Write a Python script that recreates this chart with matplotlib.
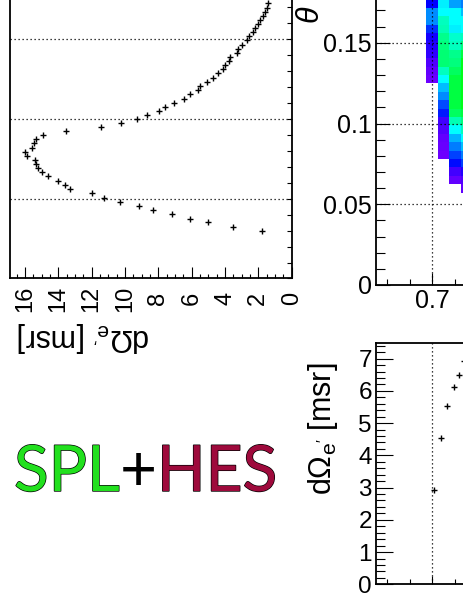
import numpy as np
import matplotlib
matplotlib.use('Agg')
import matplotlib.pyplot as plt
import matplotlib.patheffects as pe
from matplotlib.colors import LinearSegmentedColormap
from matplotlib.ticker import MultipleLocator

W, H, DPI = 463, 599, 100

# --- left panel: dOmega_e' vs theta (drawn rotated, dOmega axis reversed) ---
theta_left = [0.0296, 0.0321, 0.0352, 0.0375, 0.0402, 0.0427, 0.0452, 0.0481,
              0.0506, 0.0535, 0.0560, 0.0585, 0.0612, 0.0640, 0.0665, 0.0692,
              0.0717, 0.0744, 0.0771, 0.0794, 0.0821, 0.0848, 0.0873, 0.0900,
              0.0925, 0.0948, 0.0973, 0.1000, 0.1025, 0.1050, 0.1077, 0.1102,
              0.1127, 0.1154, 0.1181, 0.1206, 0.1233, 0.1258, 0.1286, 0.1311,
              0.1336, 0.1363, 0.1389, 0.1414, 0.1442, 0.1467, 0.1494, 0.1519,
              0.1544, 0.1569, 0.1594, 0.1619, 0.1644, 0.1669, 0.1698, 0.1727]
domega_left = [1.8, 3.5, 5.0, 6.1, 7.2, 8.3, 9.14, 10.3,
               11.24, 12.0, 13.3, 13.6, 14.04, 14.6, 15.0, 15.24,
               15.34, 15.4, 15.9, 16.0, 15.56, 15.44, 15.34, 14.94,
               13.54, 11.44, 10.24, 9.26, 8.7, 7.94, 7.6, 7.06,
               6.46, 6.1, 5.6, 5.5, 5.06, 4.7, 4.4, 4.14,
               4.0, 3.74, 3.7, 3.3, 3.2, 3.0, 2.7, 2.54,
               2.34, 2.2, 2.04, 1.9, 1.74, 1.6, 1.5, 1.4]
domega_left_ticks = [0, 2, 4, 6, 8, 10, 12, 14, 16]

# --- bottom right: dOmega_e' vs momentum ---
p_bottom = [0.7010, 0.7041, 0.7066, 0.7095, 0.7121, 0.7143]
domega_bottom = [2.94, 4.55, 5.52, 6.12, 6.48, 6.92]
domega_bottom_ticks = [0, 1, 2, 3, 4, 5, 6, 7]

# --- top right: acceptance map (p, theta) ---
p_edges = [0.6973, 0.7025, 0.7077, 0.7129, 0.7181]
theta_bin = 0.0052
col_start = [24, 15, 12, 11]  # first filled theta bin per p column
col1 = [0.035, 0.05, 0.075, 0.125, 0.15, 0.175, 0.24, 0.31, 0.31, 0.2, 0.2]
col2 = [0.035, 0.04, 0.05, 0.075, 0.1, 0.22, 0.26, 0.31, 0.35, 0.4,
        0.45, 0.51, 0.51, 0.5, 0.49, 0.46, 0.45, 0.4, 0.39, 0.39]
col3 = [0.05, 0.1, 0.21, 0.25, 0.3, 0.34, 0.4, 0.46, 0.525, 0.55, 0.55,
        0.55, 0.55, 0.525, 0.5, 0.49, 0.45, 0.44, 0.39, 0.4, 0.4, 0.325, 0.325]
col4 = [0.05, 0.075, 0.15, 0.25, 0.3, 0.35, 0.4, 0.45, 0.5, 0.55, 0.58,
        0.58, 0.58, 0.58, 0.58, 0.58, 0.55, 0.5, 0.45, 0.4, 0.4, 0.35, 0.3, 0.3]
theta_ticks = [0, 0.05, 0.1, 0.15]
theta_ticklabels = ['0', '0.05', '0.1', '0.15']
p_ticks = [0.7]
p_ticklabels = ['0.7']

ylabel = r"d$\Omega_{\mathregular{e'}}$ [msr]"

plt.rcParams['font.family'] = ['Liberation Sans', 'DejaVu Sans']
plt.rcParams['mathtext.fontset'] = 'custom'
plt.rcParams['mathtext.rm'] = 'Liberation Sans'
plt.rcParams['mathtext.it'] = 'Liberation Sans:italic'

# ROOT-like rainbow palette
rainbow = LinearSegmentedColormap.from_list('root_rainbow', [
    (0.0, '#8000ff'), (0.2, '#0000ff'), (0.4, '#00ffff'),
    (0.6, '#00ff00'), (0.8, '#ffff00'), (1.0, '#ff0000')])


def px_axes(fig, x0, y0, x1, y1):
    # pixel box (top-left origin) -> figure axes
    return fig.add_axes([x0 / W, 1 - y1 / H, (x1 - x0) / W, (y1 - y0) / H])


def style_spines(ax):
    for s in ax.spines.values():
        s.set_linewidth(1.3)


fig = plt.figure(figsize=(W / DPI, H / DPI), dpi=DPI)
grid_kw = dict(color='black', lw=0.9, ls=(0, (1, 2.2)), zorder=3)

# ===== left (rotated) panel =====
axL = px_axes(fig, 10, 278.5 - 0.2 * 1595, 291.7, 278.5)
axL.plot(domega_left, theta_left, ls='none', marker='+', ms=4.3, mew=1.0, color='black')
axL.set_xlim(16.9, 0)
axL.set_ylim(0, 0.2)
for t in theta_ticks[1:]:
    axL.axhline(t, **grid_kw)
axL.set_xticks(domega_left_ticks)
axL.set_xticklabels([str(v) for v in domega_left_ticks])
axL.xaxis.set_minor_locator(MultipleLocator(0.5))
axL.yaxis.set_major_locator(MultipleLocator(0.05))
axL.yaxis.set_minor_locator(MultipleLocator(0.01))
axL.tick_params(axis='x', which='major', direction='in', length=8, width=0.8,
                labelsize=17, labelrotation=90, pad=14.5, top=False)
axL.tick_params(axis='x', which='minor', direction='in', length=3.2, width=0.8, top=False)
axL.tick_params(axis='y', which='both', direction='in', length=3.6, width=0.8,
                left=False, right=True, labelleft=False, labelright=False)
for lbl in axL.get_xticklabels():
    lbl.set_va('center')
style_spines(axL)
fig.text(84 / W, 1 - 337 / H, ylabel, rotation=180, fontsize=22,
         ha='center', va='center')

# ===== top-right acceptance map =====
axM = px_axes(fig, 376, 285 - 0.2 * 1615, 544.5, 285)
theta_edges = np.arange(39) * theta_bin
Z = np.full((len(theta_edges) - 1, len(p_edges) - 1), np.nan)
for j, (start, vals) in enumerate(zip(col_start, [col1, col2, col3, col4])):
    Z[start:start + len(vals), j] = vals
axM.pcolormesh(p_edges, theta_edges, np.ma.masked_invalid(Z), cmap=rainbow,
               vmin=0, vmax=1, zorder=1)
axM.set_xlim(0.675, 0.75)
axM.set_ylim(0, 0.2)
for t in theta_ticks[1:]:
    axM.axhline(t, **grid_kw)
for p in p_ticks:
    axM.axvline(p, **grid_kw)
axM.set_yticks(theta_ticks)
axM.set_yticklabels(theta_ticklabels)
axM.yaxis.set_minor_locator(MultipleLocator(0.01))
axM.set_xticks(p_ticks)
axM.set_xticklabels(p_ticklabels)
axM.xaxis.set_minor_locator(MultipleLocator(0.01))
axM.tick_params(axis='y', which='major', direction='in', length=10, width=0.8,
                labelsize=18, pad=3)
axM.tick_params(axis='y', which='minor', direction='in', length=6.5, width=0.8)
axM.tick_params(axis='x', which='major', direction='in', length=8.5, width=0.8,
                labelsize=18, pad=3)
axM.tick_params(axis='x', which='minor', direction='in', length=4.3, width=0.8)
style_spines(axM)
fig.text(311 / W, 1 - 15 / H, r'$\theta$', rotation=90, fontsize=22,
         ha='center', va='center')

# ===== bottom-right dOmega vs p =====
axB = px_axes(fig, 376, 342.5, 544.5, 584.3)
axB.plot(p_bottom, domega_bottom, ls='none', marker='+', ms=4.5, mew=1.0, color='black')
axB.set_xlim(0.675, 0.75)
axB.set_ylim(0, 7.5)
for p in p_ticks:
    axB.axvline(p, **grid_kw)
axB.set_yticks(domega_bottom_ticks)
axB.set_yticklabels([str(v) for v in domega_bottom_ticks])
axB.yaxis.set_minor_locator(MultipleLocator(0.2))
axB.set_xticks(p_ticks)
axB.set_xticklabels([])
axB.xaxis.set_minor_locator(MultipleLocator(0.01))
axB.tick_params(axis='y', which='major', direction='in', length=12.5, width=0.8,
                labelsize=17.5, pad=3)
axB.tick_params(axis='y', which='minor', direction='in', length=6.5, width=0.8)
axB.tick_params(axis='x', which='major', direction='in', length=6, width=0.8)
axB.tick_params(axis='x', which='minor', direction='in', length=3.6, width=0.8)
style_spines(axB)
fig.text(323 / W, 1 - 429 / H, ylabel, rotation=90, fontsize=22,
         ha='center', va='center')

# ===== SPL+HES tag =====
outline = [pe.withStroke(linewidth=1.0, foreground='black')]
tag_font = ['Lato', 'Liberation Sans']
tag_size = 46
t1 = fig.text(14 / W, 1 - 491 / H, 'SPL', fontsize=tag_size, color='#22e01e',
              family=tag_font, va='baseline', path_effects=outline)
t2 = plt.annotate('+', xy=(1, 0), xycoords=t1, fontsize=tag_size, color='black',
                  family=tag_font, va='bottom', annotation_clip=False)
t3 = plt.annotate('HES', xy=(1, 0), xycoords=t2, fontsize=tag_size, color='#9e0a3c',
                  family=tag_font, va='bottom', path_effects=outline,
                  annotation_clip=False)

fig.savefig('out.png', dpi=DPI)
